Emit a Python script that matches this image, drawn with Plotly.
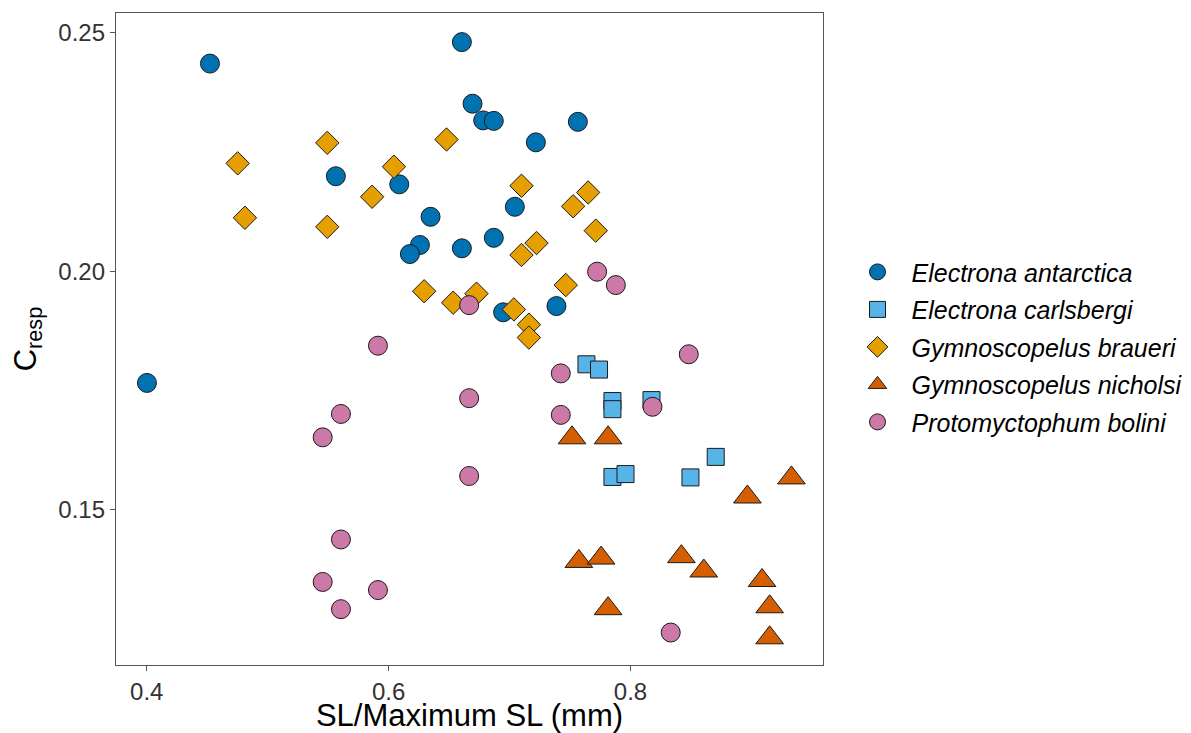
import plotly.graph_objects as go

species = ["Electrona antarctica", "Electrona carlsbergi", "Gymnoscopelus braueri",
           "Gymnoscopelus nicholsi", "Protomyctophum bolini"]

ea_x = [0.4002, 0.4523, 0.6606, 0.6694, 0.6782, 0.6870, 0.7565, 0.7218, 0.5564, 0.6088,
        0.6347, 0.7044, 0.6259, 0.6176, 0.6606, 0.6870, 0.6947, 0.7388]
ea_y = [0.1766, 0.2435, 0.2480, 0.2351, 0.2316, 0.2315, 0.2313, 0.2270, 0.2199, 0.2182,
        0.2114, 0.2135, 0.2055, 0.2036, 0.2048, 0.2070, 0.1914, 0.1927]

ec_x = [0.7636, 0.7740, 0.7851, 0.7851, 0.8174, 0.7851, 0.7959, 0.8496, 0.8705]
ec_y = [0.1805, 0.1794, 0.1728, 0.1711, 0.1730, 0.1569, 0.1575, 0.1568, 0.1611]

gb_x = [0.4752, 0.4812, 0.5493, 0.5493, 0.6044, 0.5864, 0.6479, 0.6294, 0.6534, 0.6727,
        0.7099, 0.7650, 0.7526, 0.7713, 0.7223, 0.7099, 0.7465, 0.7036, 0.7160, 0.7160]
gb_y = [0.2226, 0.2112, 0.2269, 0.2093, 0.2219, 0.2156, 0.2276, 0.1958, 0.1934, 0.1953,
        0.2179, 0.2165, 0.2136, 0.2085, 0.2059, 0.2034, 0.1971, 0.1920, 0.1888, 0.1861]

gn_x = [0.7517, 0.7815, 0.9331, 0.8967, 0.7573, 0.7757, 0.8421, 0.8606, 0.9088, 0.7815,
        0.9151, 0.9151]
gn_y = [0.1651, 0.1651, 0.1567, 0.1527, 0.1392, 0.1399, 0.1402, 0.1372, 0.1352, 0.1293,
        0.1297, 0.1232]

pb_x = [0.5912, 0.5606, 0.5455, 0.5606, 0.5455, 0.5912, 0.5606, 0.6666, 0.6666, 0.6666,
        0.7724, 0.7879, 0.7424, 0.7424, 0.8482, 0.8182, 0.8333]
pb_y = [0.1844, 0.1701, 0.1652, 0.1438, 0.1349, 0.1332, 0.1292, 0.1929, 0.1734, 0.1571,
        0.1999, 0.1971, 0.1786, 0.1699, 0.1826, 0.1716, 0.1243]

x_ticks = [0.4, 0.6, 0.8]
y_ticks = [0.15, 0.20, 0.25]
y_tick_labels = ["0.15", "0.20", "0.25"]

series = [
    (species[0], ea_x, ea_y, "circle", "#0072B2", 19),
    (species[1], ec_x, ec_y, "square", "#56B4E9", 17),
    (species[2], gb_x, gb_y, "diamond", "#E69F00", 18),
    (species[3], gn_x, gn_y, "triangle-up", "#D55E00", 24),
    (species[4], pb_x, pb_y, "circle", "#CC79A7", 19),
]

FONT = "Liberation Sans, Arial, Helvetica, sans-serif"

fig = go.Figure()
for name, xs, ys, sym, col, sz in series:
    fig.add_trace(go.Scatter(
        x=xs, y=ys, mode="markers", name=name, legendgroup=name,
        marker=dict(symbol=sym, color=col, size=sz,
                    line=dict(color="#1a1a1a", width=1)),
    ))

axis_common = dict(
    showgrid=False, zeroline=False, showline=True, mirror=True,
    linecolor="#555555", linewidth=1.3,
    ticks="outside", ticklen=5, tickwidth=1.2, tickcolor="#555555",
    tickfont=dict(family=FONT, size=24, color="#333333"),
)

fig.update_xaxes(
    range=[0.3746, 0.9592], tickvals=x_ticks, ticktext=[str(v) for v in x_ticks],
    title=dict(text="SL/Maximum SL (mm)", font=dict(family=FONT, size=31, color="#000000"),
               standoff=4),
    automargin=True,
    **axis_common,
)
fig.update_yaxes(
    range=[0.1175, 0.2541], tickvals=y_ticks, ticktext=y_tick_labels,
    title=dict(text="C<sub>resp</sub>", font=dict(family=FONT, size=31, color="#000000"),
               standoff=14),
    automargin=True,
    **axis_common,
)

fig.update_layout(
    width=1183, height=725,
    paper_bgcolor="white", plot_bgcolor="white",
    margin=dict(l=108, r=368, t=5, b=68, autoexpand=False),
    font=dict(family=FONT),
    legend=dict(
        x=1.029, xanchor="left", y=0.4875, yanchor="middle",
        font=dict(family=FONT, size=25, color="#000000", style="italic"),
        itemwidth=58, tracegroupgap=2,
        bgcolor="rgba(0,0,0,0)",
    ),
    showlegend=True,
)

fig.write_html("out.html")
